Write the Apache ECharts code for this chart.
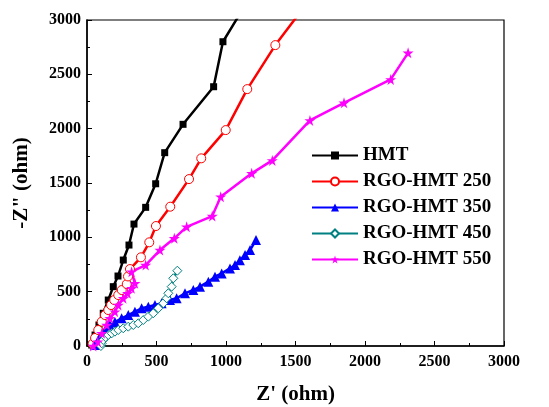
<!DOCTYPE html>
<html>
<head>
<meta charset="utf-8">
<script src="https://cdn.jsdelivr.net/npm/echarts@6/dist/echarts.min.js"></script>
<style>
  html, body { margin: 0; padding: 0; background: #fff; }
  #chart { width: 549px; height: 407px; }
</style>
</head>
<body>
<div id="chart"></div>
<script>
// Nyquist data, [Z', -Z''] in ohm
const hmt = [[34,9],[58,101],[86,193],[117,301],[153,423],[189,546],[223,644],[261,791],[302,929],[338,1122],[422,1276],[494,1493],[559,1779],[691,2040],[911,2386],[978,2800],[1130,3120]];
const rgo250 = [[40,20],[58,74],[81,147],[106,224],[129,285],[153,331],[173,377],[196,423],[225,469],[250,515],[286,570],[295,640],[309,708],[388,816],[448,954],[496,1104],[599,1282],[734,1536],[822,1727],[998,1987],[1153,2364],[1355,2769],[1562,3120]];
const rgo350 = [[58,9],[81,55],[106,101],[134,147],[165,190],[201,220],[249,255],[297,285],[345,316],[393,347],[441,362],[489,377],[537,393],[597,423],[645,439],[705,485],[765,515],[813,546],[873,592],[921,638],[969,668],[1029,714],[1065,745],[1100,790],[1137,837],[1173,883],[1216,975]];
const rgo450 = [[100,0],[106,25],[117,55],[134,80],[153,101],[178,117],[201,132],[225,147],[261,163],[297,178],[333,193],[369,209],[405,239],[441,270],[477,301],[513,347],[549,393],[573,439],[585,485],[609,546],[621,623],[650,693]];
const rgo550 = [[45,0],[77,40],[106,117],[142,193],[165,255],[201,316],[225,377],[261,439],[292,485],[321,531],[345,577],[321,684],[422,745],[525,883],[628,991],[717,1097],[901,1196],[962,1374],[1185,1589],[1333,1708],[1604,2076],[1849,2238],[2185,2453],[2310,2698]];

const names = ["HMT", "RGO-HMT 250", "RGO-HMT 350", "RGO-HMT 450", "RGO-HMT 550"];
const colors = ["#000000", "#ff0000", "#0000ff", "#008080", "#ff00ff"];

const font = "Liberation Serif";
const star = "path://M50,0 L61,35 L98,35 L68,57 L79,91 L50,70 L21,91 L32,57 L2,35 L39,35 Z";

function mkSeries(i, data, symbol, size, hollow) {
  return {
    name: names[i],
    type: "line",
    data: data,
    symbol: symbol,
    symbolSize: size,
    showAllSymbol: true,
    clip: true,
    lineStyle: { color: colors[i], width: 2.5 },
    itemStyle: {
      color: hollow ? "#ffffff" : colors[i],
      borderColor: colors[i],
      borderWidth: hollow ? 1 : 0
    },
    emphasis: { disabled: true },
    animation: false
  };
}

function axisCommon(name) {
  return {
    type: "value",
    min: 0,
    max: 3000,
    interval: 500,
    name: name,
    nameLocation: "middle",
    nameMoveOverlap: false,
    nameTextStyle: { fontFamily: font, fontWeight: "bold", fontSize: 21, color: "#000" },
    axisLine: { show: true, lineStyle: { color: "#000", width: 1.5 } },
    axisTick: { show: true, inside: true, length: 5, lineStyle: { color: "#000", width: 1 } },
    minorTick: { show: true, splitNumber: 2, length: 3, lineStyle: { color: "#000", width: 1 } },
    axisLabel: {
      fontFamily: font, fontWeight: "bold", fontSize: 16, color: "#000",
      formatter: v => String(v)
    },
    splitLine: { show: false }
  };
}

let chart = echarts.init(document.getElementById("chart"), null, { renderer: "canvas" });

let xAxis = axisCommon("Z' (ohm)");
xAxis.nameGap = 38;
xAxis.axisLabel.margin = 8;
let yAxis = axisCommon('-Z" (ohm)');
yAxis.nameGap = 55;
yAxis.axisLabel.margin = 6;

chart.setOption({
  backgroundColor: "#fff",
  animation: false,
  grid: {
    left: 87, right: 45, top: 20, bottom: 61,
    outerBoundsMode: "none",
    containLabel: false,
    show: true, borderColor: "#000", borderWidth: 1.2, backgroundColor: "transparent"
  },
  legend: {
    left: 306,
    top: 141,
    orient: "vertical",
    itemWidth: 46,
    itemHeight: 10,
    itemGap: 7,
    data: names,
    textStyle: { fontFamily: font, fontWeight: "bold", fontSize: 19, color: "#000" }
  },
  xAxis: xAxis,
  yAxis: yAxis,
  series: [
    mkSeries(0, hmt, "rect", 7, false),
    mkSeries(1, rgo250, "circle", 9, true),
    mkSeries(2, rgo350, "triangle", 10, false),
    mkSeries(3, rgo450, "diamond", 9, true),
    mkSeries(4, rgo550, star, 11, false)
  ]
});
</script>
</body>
</html>
